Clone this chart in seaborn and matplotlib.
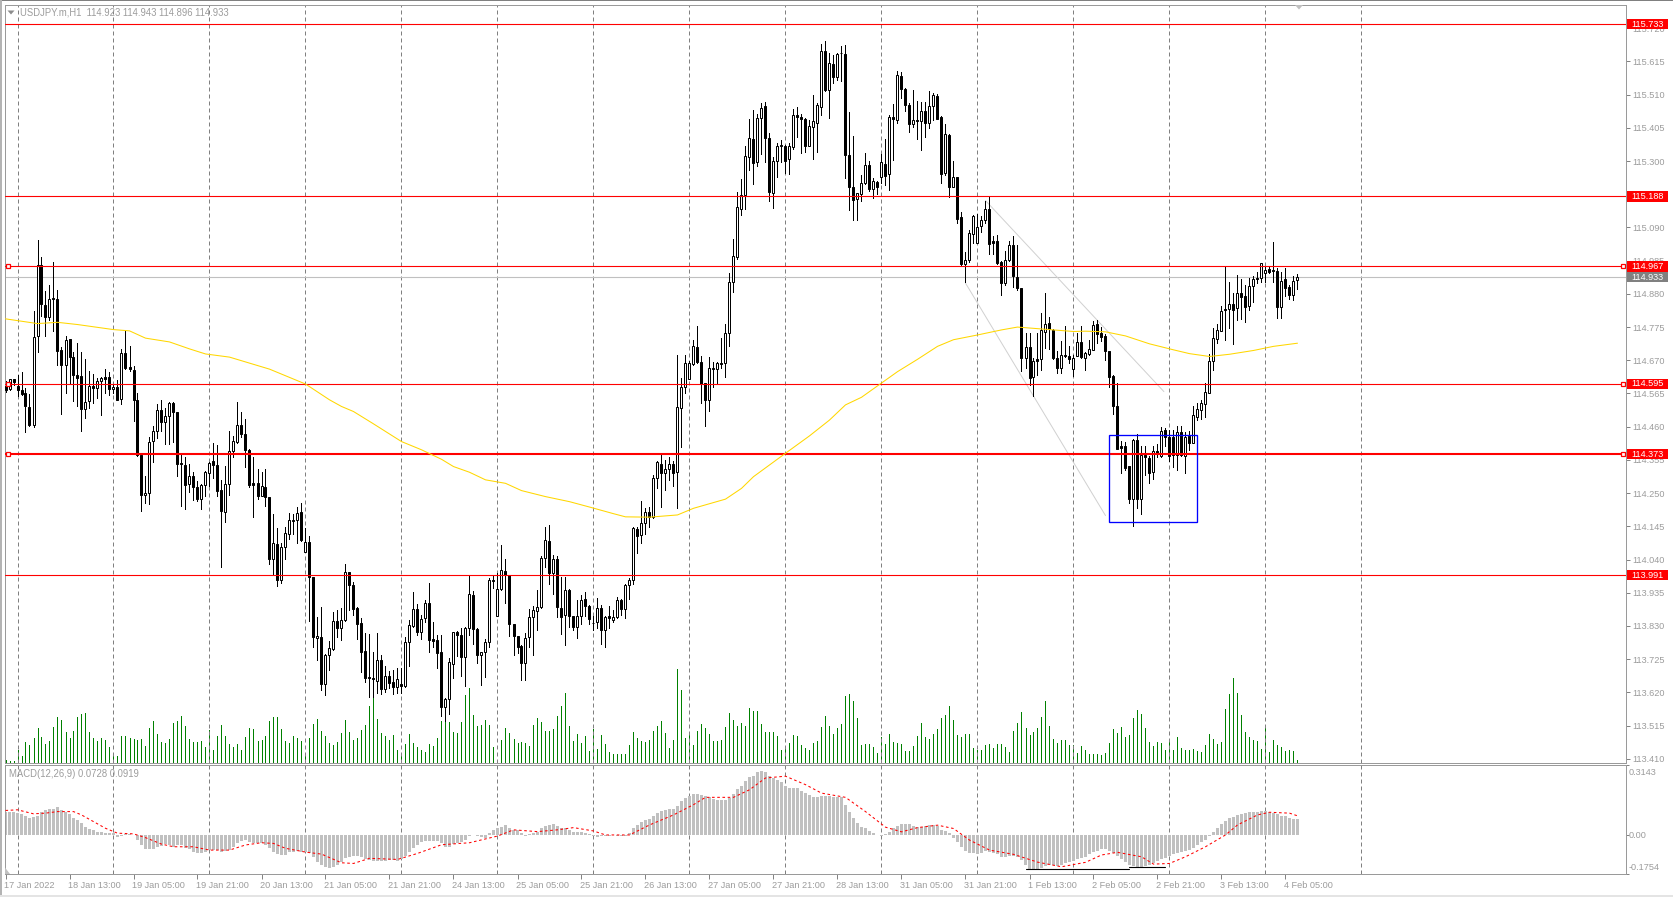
import numpy as np
import pandas as pd
import seaborn as sns
import matplotlib
matplotlib.use("Agg")
import matplotlib.pyplot as plt
from matplotlib.patches import Rectangle, Polygon
from matplotlib.transforms import ScaledTranslation

# Prices are held in points (1/1000 yen) above PRICE_BASE
PRICE_BASE = 113.0
highs_pts = [
1603,1612,1612,1625,1632,1582,1564,1827,2051,1997,
1890,1909,1982,1893,1712,1746,1738,1697,1725,1696,
1674,1636,1627,1614,1618,1642,1633,1596,1609,1707,
1764,1716,1653,1567,1372,1305,1427,1461,1533,1545,
1519,1539,1539,1508,1372,1364,1342,1316,1287,1280,
1321,1348,1408,1403,1290,1337,1445,1431,1539,1506,
1485,1389,1364,1326,1318,1326,1237,1185,1139,1092,
1142,1187,1185,1206,1220,1141,1113,986,858,889,
741,781,874,881,886,1026,1002,968,889,855,
807,805,749,807,739,702,689,691,697,697,
795,849,936,900,865,913,967,841,802,800,
602,728,810,815,823,826,990,941,823,749,
790,981,990,997,1087,1042,992,836,799,770,
807,883,892,944,1050,1144,1150,1055,1052,984,
984,946,862,913,928,938,897,860,919,895,
862,892,881,923,914,962,981,1144,1144,1226,
1202,1206,1308,1353,1371,1355,1365,1353,1687,1613,
1687,1669,1734,1779,1682,1599,1680,1664,1666,1742,
1785,1945,2053,2201,2243,2346,2432,2462,2449,2483,
2485,2390,2312,2358,2367,2350,2358,2464,2472,2449,
2435,2430,2508,2483,2669,2680,2641,2636,2641,2664,
2667,2454,2379,2198,2256,2325,2299,2246,2238,2322,
2370,2446,2480,2585,2581,2530,2483,2525,2491,2488,
2488,2522,2515,2511,2441,2417,2386,2301,2251,2140,
2011,2082,2130,2133,2127,2175,2188,2063,2067,1984,
2016,2046,2063,2035,1898,1756,1756,1677,1756,1821,
1884,1808,1769,1698,1731,1777,1714,1687,1756,1777,
1695,1733,1793,1798,1774,1754,1698,1624,1598,1415,
1413,1336,1422,1437,1398,1398,1366,1398,1406,1458,
1455,1448,1450,1461,1461,1442,1445,1526,1535,1545,
1598,1691,1772,1784,1842,1967,1916,1882,1940,1927,
1909,1930,1937,1949,1979,1967,1967,2045,1961,1948,
1961,1909,1937,1943]
lows_pts = [
1569,1575,1593,1558,1559,1442,1461,1458,1695,1809,
1746,1798,1764,1656,1501,1567,1596,1540,1524,1445,
1486,1518,1535,1551,1498,1567,1559,1567,1543,1532,
1642,1637,1479,1366,1194,1219,1217,1347,1424,1445,
1405,1405,1412,1303,1210,1200,1252,1229,1224,1200,
1240,1274,1298,1242,1015,1158,1243,1363,1408,1426,
1334,1268,1173,1232,1241,1210,1026,992,955,965,
1043,1104,1120,1092,1099,1065,847,762,723,628,
613,691,755,795,786,847,881,865,789,683,
654,604,604,617,615,620,633,615,617,617,
636,702,828,802,788,844,749,765,697,544,
528,552,667,736,672,639,800,773,714,644,
670,765,949,860,944,904,797,739,744,658,
660,765,737,818,886,1018,963,932,858,805,
770,828,818,792,837,863,837,818,822,773,
765,825,844,855,865,855,916,963,1062,1091,
1121,1144,1171,1265,1207,1260,1290,1273,1202,1395,
1568,1610,1655,1661,1536,1462,1511,1584,1595,1645,
1618,1716,1887,1989,2130,2148,2270,2228,2285,2323,
2298,2172,2153,2251,2298,2261,2259,2339,2375,2325,
2327,2348,2307,2330,2446,2522,2437,2548,2557,2554,
2245,2145,2114,2114,2175,2228,2204,2183,2195,2230,
2225,2209,2304,2420,2499,2457,2393,2409,2370,2335,
2375,2404,2430,2432,2230,2256,2186,2219,2104,1972,
1916,1982,2040,2040,2077,2104,2007,2007,1975,1877,
1909,1984,1903,1891,1635,1645,1592,1558,1624,1640,
1708,1705,1675,1629,1629,1679,1661,1619,1682,1677,
1638,1687,1701,1724,1730,1672,1587,1499,1389,1313,
1322,1218,1145,1203,1185,1306,1282,1295,1364,1364,
1398,1350,1334,1324,1366,1315,1385,1410,1480,1484,
1492,1566,1640,1724,1761,1735,1772,1722,1798,1800,
1790,1830,1853,1914,1916,1916,1946,1919,1805,1805,
1874,1863,1861,1896]
body_top_pts = [
1590,1610,1611,1590,1577,1567,1522,1744,1971,1971,
1846,1864,1867,1864,1704,1734,1737,1681,1625,1620,
1538,1589,1589,1603,1614,1617,1618,1586,1586,1693,
1694,1649,1640,1545,1369,1250,1412,1446,1513,1513,
1494,1535,1536,1506,1345,1340,1304,1304,1270,1276,
1317,1345,1352,1339,1260,1278,1382,1414,1465,1465,
1436,1386,1283,1281,1272,1269,1237,1092,1089,1079,
1123,1164,1166,1187,1190,1095,1095,985,798,795,
738,760,845,845,848,1000,1000,959,886,839,
750,669,666,722,722,671,671,652,662,646,
779,832,883,883,852,903,903,789,786,747,
600,716,810,811,801,825,930,927,820,749,
779,975,975,946,1006,1003,990,836,798,767,
791,858,881,889,1044,1101,1099,1041,1041,887,
943,944,862,860,913,916,894,840,886,886,
858,862,858,912,913,959,975,1139,1136,1156,
1190,1191,1297,1348,1342,1325,1341,1342,1522,1585,
1661,1661,1714,1711,1664,1597,1645,1647,1661,1662,
1755,1917,1999,2154,2192,2315,2372,2369,2435,2469,
2474,2372,2299,2349,2350,2347,2347,2445,2445,2438,
2434,2410,2427,2476,2647,2647,2609,2607,2638,2642,
2639,2318,2219,2198,2229,2287,2287,2236,2233,2296,
2290,2439,2439,2572,2569,2528,2478,2429,2429,2458,
2459,2475,2508,2506,2439,2386,2382,2249,2250,2124,
1987,2072,2127,2091,2113,2148,2149,2047,2047,1981,
1987,2034,2034,1933,1898,1711,1711,1667,1674,1765,
1784,1787,1767,1677,1686,1687,1684,1677,1727,1728,
1693,1706,1781,1785,1757,1747,1698,1621,1526,1399,
1399,1336,1418,1418,1371,1371,1361,1383,1383,1446,
1449,1429,1427,1443,1443,1429,1432,1497,1516,1535,
1569,1667,1740,1766,1825,1832,1848,1849,1882,1882,
1873,1904,1928,1931,1977,1956,1959,1955,1952,1922,
1927,1902,1922,1933]
body_bot_pts = [
1577,1579,1602,1575,1564,1524,1464,1464,1746,1847,
1806,1806,1863,1698,1654,1654,1679,1622,1613,1515,
1515,1541,1581,1581,1603,1612,1578,1578,1545,1547,
1646,1641,1543,1369,1243,1244,1250,1414,1446,1474,
1474,1495,1506,1341,1341,1277,1278,1269,1230,1231,
1276,1314,1338,1256,1192,1189,1278,1382,1411,1436,
1385,1277,1277,1242,1242,1237,1043,1043,974,974,
1079,1122,1163,1165,1102,1065,984,794,791,645,
645,737,758,824,824,848,958,885,835,749,
667,665,662,657,630,630,650,636,636,641,
639,779,831,811,812,854,787,781,746,575,
573,598,711,800,731,731,825,820,737,737,
747,779,971,863,946,990,835,797,765,714,
712,794,857,877,889,1046,999,999,889,857,
865,860,828,828,860,892,852,838,841,816,
817,854,850,857,884,885,961,975,1116,1117,
1154,1175,1175,1297,1313,1313,1325,1315,1316,1518,
1587,1612,1659,1663,1595,1543,1543,1644,1644,1658,
1661,1755,1917,1998,2148,2192,2314,2295,2298,2435,
2374,2203,2200,2301,2349,2299,2305,2343,2438,2432,
2349,2349,2406,2419,2472,2523,2523,2567,2567,2640,
2320,2217,2177,2179,2196,2230,2211,2211,2217,2249,
2253,2258,2432,2431,2529,2476,2418,2418,2425,2425,
2419,2419,2475,2433,2260,2261,2219,2219,2118,1973,
1973,1986,2068,2042,2093,2112,2039,2042,1976,1913,
1913,1986,1935,1897,1677,1677,1613,1616,1668,1674,
1759,1768,1676,1645,1645,1682,1674,1641,1682,1680,
1677,1689,1703,1754,1745,1698,1616,1524,1390,1394,
1331,1230,1230,1233,1233,1363,1315,1318,1376,1368,
1427,1368,1371,1369,1371,1368,1410,1410,1492,1513,
1533,1568,1667,1737,1764,1828,1831,1828,1835,1869,
1840,1843,1904,1927,1930,1945,1948,1952,1837,1837,
1899,1875,1875,1923]
bullish_flags = ("0100000110" "0100010000" "1101100101" "0000011110" "1100001001"
                 "1100011110" "0000100101" "1111010010" "1110110000" "0001010010"
                 "1110110000" "1110011001" "1101100000" "1111110100" "1001100110"
                 "1011011101" "1011011011" "1110001110" "1111111011" "0011101100"
                 "0111101011" "0001110101" "0101000101" "0110010100" "1111110000"
                 "1100010101" "1000100110" "1110000000" "0010100101" "0001010111"
                 "1111101010" "0110110001" "0011")
volumes = [
10,7,7,40,22,64,55,75,105,79,
58,67,108,139,130,94,76,97,139,147,
150,94,76,67,76,70,49,31,22,82,
82,76,73,70,73,52,106,127,88,64,
61,73,121,127,142,112,73,64,64,67,
49,100,40,82,115,82,58,49,58,40,
79,106,103,67,70,82,127,139,139,103,
67,61,82,76,67,25,76,118,133,97,
82,61,55,64,91,130,94,70,76,100,
115,172,195,133,91,82,70,85,40,28,
58,88,61,49,40,34,58,52,76,127,
170,125,95,90,125,205,226,145,112,115,
130,115,50,10,70,105,90,72,60,64,
62,53,115,135,123,97,97,102,142,172,
210,112,67,87,61,82,37,103,43,85,
58,34,28,28,28,28,55,94,75,67,
64,70,97,112,127,91,46,70,283,220,
76,85,55,97,118,106,88,67,67,70,
109,151,130,112,121,112,166,157,157,118,
94,94,94,82,40,49,61,85,82,55,
46,40,61,67,109,142,112,88,106,118,
202,208,187,136,55,58,58,49,31,78,
58,88,64,61,58,37,37,52,82,121,
80,74,88,102,136,145,172,130,85,79,
88,88,46,40,40,55,58,46,58,58,
49,34,97,121,154,107,85,94,106,139,
187,112,73,61,70,70,55,55,31,52,
40,28,28,28,25,31,61,103,91,109,
79,85,136,160,148,106,64,52,64,61,
40,64,40,79,46,40,40,43,37,34,
55,88,73,58,64,163,208,256,211,145,
94,79,70,67,43,109,34,70,55,49,
37,40,37,10]
macd_hist_milli = [
105,105,102,98,92,86,74,80,86,101,
110,115,118,125,113,101,95,78,65,53,
38,26,23,14,12,11,9,8,
-8,-3,3,3,0,-23,-45,-63,-65,-63,
-53,-50,-42,-45,-53,-45,-45,-60,-65,-75,
-80,-80,-75,-68,-68,-68,-75,-72,-68,-53,
-38,-26,-23,-30,-38,-35,-35,-45,-60,-75,
-86,-89,-89,-78,-75,-74,-75,-75,-83,-98,
-121,-136,-146,-149,-146,-136,-121,-105,-98,-95,
-95,-101,-107,-113,-116,-116,-115,-115,-113,-113,
-116,-110,-95,-75,-57,-45,-30,-26,-26,-26,
-26,-38,-53,-53,-41,-35,-30,-23,-3,0,
-5,-8,-15,8,23,30,38,44,33,23,
23,8,-3,3,8,15,30,41,45,50,
41,30,30,23,15,12,12,8,3,-3,
-8,-5,-5,-3,0,-3,-3,-3,8,33,
45,56,65,72,86,98,108,113,118,118,
131,151,166,173,185,185,181,173,170,161,
158,155,158,166,184,206,222,244,261,267,
282,289,285,267,256,249,237,222,212,212,
209,199,188,181,170,170,176,173,173,170,
170,170,136,105,78,53,38,30,20,11,
0,-3,5,15,30,41,48,50,47,42,
38,38,41,44,44,42,23,18,8,-12,
-33,-53,-71,-80,-83,-84,-80,-74,-75,-80,
-86,-98,-98,-93,-93,-98,-113,-136,-151,-152,
-152,-148,-140,-136,-137,-139,-136,-125,-122,-116,
-107,-104,-101,-86,-75,-71,-65,-65,-72,-80,
-93,-110,-121,-136,-139,-143,-143,-139,-133,-125,-116,
-109,-102,-95,-87,-83,-78,-74,-68,-57,-47,
-30,-23,-3,12,30,50,63,75,80,90,
95,98,102,105,105,108,108,105,98,93,
87,83,75,72,72]
ma_bars = [0,8,13,18,27,31,35,41,46,50,56,66,75,81,84,87,92,99,104,109,112,116,120,125,129,135,
           141,146,152,155,161,168,172,180,184,187,195,201,206,210,214,219,223,228,233,237,243,249,
           253,256,262,267,270,275,280,286,292,296,301,306,312,317,323]
ma_values = [114.801,114.786,114.790,114.783,114.767,114.763,114.740,114.728,114.706,114.690,114.680,
             114.642,114.595,114.545,114.524,114.508,114.469,114.413,114.387,114.357,114.334,114.316,
             114.292,114.281,114.258,114.239,114.223,114.206,114.185,114.175,114.174,114.181,114.202,
             114.231,114.265,114.302,114.376,114.431,114.481,114.529,114.553,114.598,114.634,114.673,
             114.714,114.735,114.750,114.766,114.775,114.772,114.766,114.761,114.762,114.760,114.747,
             114.722,114.703,114.691,114.682,114.689,114.701,114.714,114.724]
signal_bars = [0,3,7,10,13,17,19,22,25,28,32,35,39,42,47,51,56,60,64,67,70,75,79,84,87,91,98,103,109,116,
               123,127,133,138,142,147,150,156,161,167,172,175,182,186,190,195,200,204,210,215,220,224,
               228,233,237,241,246,252,258,264,270,274,278,284,287,291,295,300,305,308,313,316,321,323]
signal_values = [0.110,0.113,0.095,0.098,0.105,0.105,0.090,0.060,0.030,0.008,0.005,-0.012,-0.041,-0.053,
                 -0.053,-0.068,-0.068,-0.045,-0.035,-0.038,-0.060,-0.077,-0.086,-0.125,-0.128,-0.105,-0.110,
                 -0.083,-0.044,-0.035,-0.005,0.023,0.015,0.023,0.033,0.018,0.000,0.000,0.045,0.090,0.136,
                 0.169,0.169,0.203,0.256,0.264,0.226,0.188,0.169,0.105,0.035,0.014,0.033,0.044,0.029,
                 -0.023,-0.068,-0.087,-0.122,-0.143,-0.123,-0.090,-0.078,-0.098,-0.131,-0.128,-0.098,
                 -0.053,0.000,0.045,0.090,0.102,0.098,0.086]
support_levels = [115.733, 115.188, 114.967, 114.595, 114.373, 113.991]
marked_levels = [114.967, 114.595, 114.373]
last_price = 114.933
price_ticks = [115.720, 115.615, 115.510, 115.405, 115.300, 115.195, 115.090, 114.985, 114.880, 114.775,
               114.670, 114.565, 114.460, 114.355, 114.250, 114.145, 114.040, 113.935, 113.830, 113.725,
               113.620, 113.515, 113.410]
hidden_ticks = [115.195]
date_labels = ["17 Jan 2022", "18 Jan 13:00", "19 Jan 05:00", "19 Jan 21:00", "20 Jan 13:00", "21 Jan 05:00",
               "21 Jan 21:00", "24 Jan 13:00", "25 Jan 05:00", "25 Jan 21:00", "26 Jan 13:00", "27 Jan 05:00",
               "27 Jan 21:00", "28 Jan 13:00", "31 Jan 05:00", "31 Jan 21:00", "1 Feb 13:00", "2 Feb 05:00",
               "2 Feb 21:00", "3 Feb 13:00", "4 Feb 05:00"]
upper_trend_bars, upper_trend_prices = [245, 289.6], [115.175, 114.571]
lower_trend_bars, lower_trend_prices = [240, 275], [114.914, 114.179]
box_bars, box_prices = [276, 298], [114.158, 114.433]
macd_seg_bars = [[255, 263.6], [263.6, 281], [281, 290]]
macd_seg_vals = [-0.155, -0.151, -0.146]

W, H = 1673, 897
GREY = "#9c9c9c"
sns.set_theme(style="white")
plt.rcParams["font.family"] = ["Liberation Sans", "DejaVu Sans"]
FS = 6.6
FS_HEAD = 6.85

fig = plt.figure(figsize=(W / 100, H / 100), dpi=100, facecolor="white")

def rect(l, t, r, b):
    return [l / W, 1 - b / H, (r - l) / W, (b - t) / H]

L, R = 4.6, 1625.5
ax_v = fig.add_axes(rect(L, 4.7, R, 763.3))
ax = fig.add_axes(rect(L, 4.7, R, 763.3), sharex=ax_v)
ax_m = fig.add_axes(rect(L, 765.0, R, 874.0), sharex=ax_v)
ax.patch.set_alpha(0)
xmin, xmax = (L - 5.5) / 4, (R - 5.5) / 4

# volume
vx = np.arange(len(volumes))
ax_v.vlines(vx, 0, volumes, color="#008000", lw=0.72, antialiased=False)
ax_v.set_ylim(0, 2275)
ax_v.set_yticks([])
ax_v.tick_params(labelbottom=False, bottom=False)
for s in ax_v.spines.values():
    s.set_visible(False)

# grid (day separators)
grid_bars = np.arange(3, 340, 24)
for a in (ax, ax_m):
    a.vlines(grid_bars, 0, 1, transform=a.get_xaxis_transform(), color="#808080", lw=0.72,
             linestyles=[(0, (4, 3))], zorder=1)

# candles
highs = PRICE_BASE + np.array(highs_pts) / 1000
lows = PRICE_BASE + np.array(lows_pts) / 1000
tops = PRICE_BASE + np.array(body_top_pts) / 1000
bots = PRICE_BASE + np.array(body_bot_pts) / 1000
bull = np.array([c == "1" for c in bullish_flags])
cx = np.arange(len(highs))
ax.vlines(cx, lows, highs, color="black", lw=0.72, zorder=3, antialiased=False)
ax.bar(cx, tops - bots, bottom=bots, width=0.5, color=np.where(bull, "white", "black"),
       edgecolor="black", linewidth=0.72, zorder=3.1)

# levels
ax.axhline(last_price, color="#c0c0c0", lw=0.8, zorder=2)
for lev in support_levels:
    ax.axhline(lev, color="#ff0000", lw=1.5 if lev == 114.373 else 0.8, zorder=4)
for lev in marked_levels:
    ax.plot([(7.5 - 5.5) / 4, (1622.6 - 5.5) / 4], [lev, lev], ls="none", marker="s", ms=3.4, mfc="white",
            mec="#ff0000", mew=0.9, zorder=4.5)

# moving average & objects
sns.lineplot(x=ma_bars, y=ma_values, ax=ax, color="#ffd700", lw=0.75, errorbar=None, zorder=4)
ax.plot(upper_trend_bars, upper_trend_prices, color="#d0d0d0", lw=0.7, zorder=2.5)
ax.plot(lower_trend_bars, lower_trend_prices, color="#d0d0d0", lw=0.7, zorder=2.5)
ax.add_patch(Rectangle((box_bars[0], box_prices[0]), box_bars[1] - box_bars[0], box_prices[1] - box_prices[0],
                       fill=False, ec="#0000ff", lw=0.95, zorder=5))

ax.set_xlim(xmin, xmax)
PX = 316.3
ANCHOR = 24.05
ax.set_ylim(115.733 - (763.3 - ANCHOR) / PX, 115.733 + (ANCHOR - 4.7) / PX)
ax.set_yticks(price_ticks)
ax.set_yticklabels(["" if v in hidden_ticks else f"{v:.3f}" for v in price_ticks])
ax.yaxis.tick_right()
ax.tick_params(axis="y", right=True, length=3, width=0.7, color="#808080", labelcolor=GREY, labelsize=FS, pad=2)
ax.tick_params(axis="x", labelbottom=False, bottom=False)
ax.set_xlabel(""); ax.set_ylabel("")
for s in ax.spines.values():
    s.set_color("#9a9a9a"); s.set_linewidth(0.72)

# price flags on the scale
tr = ax.get_yaxis_transform()
def xf(px):
    return (px - L) / (R - L)
for lev in support_levels + [last_price]:
    col = "#808080" if lev == last_price else "#ff0000"
    ax.add_patch(Rectangle((xf(1626.6), lev - 5.2 / PX), xf(1668) - xf(1626.6), 10.4 / PX, transform=tr,
                           clip_on=False, fc=col, ec="none", zorder=6))
    ax.text(xf(1631), lev, f"{lev:.3f}", transform=tr, color="white", fontsize=FS, va="center", ha="left",
            zorder=7, clip_on=False)

# header
ax.text(xf(20), 1 - (12.4 - 4.7) / (763.3 - 4.7), "USDJPY.m,H1  114.923 114.943 114.896 114.933",
        transform=ax.transAxes, color=GREY, fontsize=FS_HEAD, va="center", ha="left", zorder=8)

# MACD
hist = np.array(macd_hist_milli) / 1000
ax_m.bar(np.arange(len(hist)), hist, width=0.75, color="#c0c0c0", linewidth=0, zorder=2)
sns.lineplot(x=signal_bars, y=signal_values, ax=ax_m, color="#ff0000", lw=0.75, errorbar=None,
             linestyle=(0, (2.5, 2.5)), zorder=3)
for seg, val in zip(macd_seg_bars, macd_seg_vals):
    ax_m.plot(seg, [val, val], color="black", lw=0.8, zorder=4)
ax_m.set_xlim(xmin, xmax)
ax_m.set_ylim(-0.1754, 0.3143)
ax_m.yaxis.tick_right()
ax_m.set_yticks([-0.1754, 0.0, 0.3143])
ax_m.set_yticklabels(["", "", ""])
ax_m.tick_params(axis="y", right=True, length=2, width=0.7, color="#808080")
ax_m.set_xticks(np.arange(0, 321, 16))
ax_m.set_xticklabels(date_labels, ha="left")
ax_m.tick_params(axis="x", bottom=True, length=3.5, width=0.7, color="#808080", labelcolor=GREY, labelsize=FS, pad=1.2)
offset = ScaledTranslation(-1.3 / 100, 0, fig.dpi_scale_trans)
for lab in ax_m.get_xticklabels():
    lab.set_transform(lab.get_transform() + offset)
ax_m.set_xlabel(""); ax_m.set_ylabel("")
for s in ax_m.spines.values():
    s.set_color("#9a9a9a"); s.set_linewidth(0.72)
pane = 874.0 - 765.0
for txt, yy in (("0.3143", 772.7), ("0.00", 835.7), ("-0.1754", 867.7)):
    ax_m.text(xf(1629), 1 - (yy - 765.0) / pane, txt, transform=ax_m.transAxes, color=GREY, fontsize=FS,
              va="center", ha="left", clip_on=False)
ax_m.text(xf(9.3), 1 - (774 - 765.0) / pane, "MACD(12,26,9) 0.0728 0.0919", transform=ax_m.transAxes, color=GREY,
          fontsize=FS_HEAD, va="center", ha="left", zorder=8)

# window chrome
def fig_poly(pts, color):
    fig.add_artist(Polygon([(x / W, 1 - y / H) for x, y in pts], closed=True, fc=color, ec="none",
                           transform=fig.transFigure, zorder=10))
fig_poly([(0, 0), (W, 0), (W, 1.5), (0, 1.5)], "#808080")
fig_poly([(0, 0), (1.6, 0), (1.6, H), (0, H)], "#b4b4b4")
fig_poly([(0, H - 1.8), (W, H - 1.8), (W, H), (0, H)], "#e4e4e4")
fig_poly([(7.5, 10.5), (14.5, 10.5), (11, 14.5)], "#8c8c8c")
fig_poly([(1295, 5), (1303, 5), (1299, 9.5)], "#c0c0c0")
fig_poly([(5, 867.5), (10, 874), (5, 874)], "#c0c0c0")

fig.savefig("out.png", dpi=100, facecolor="white")
